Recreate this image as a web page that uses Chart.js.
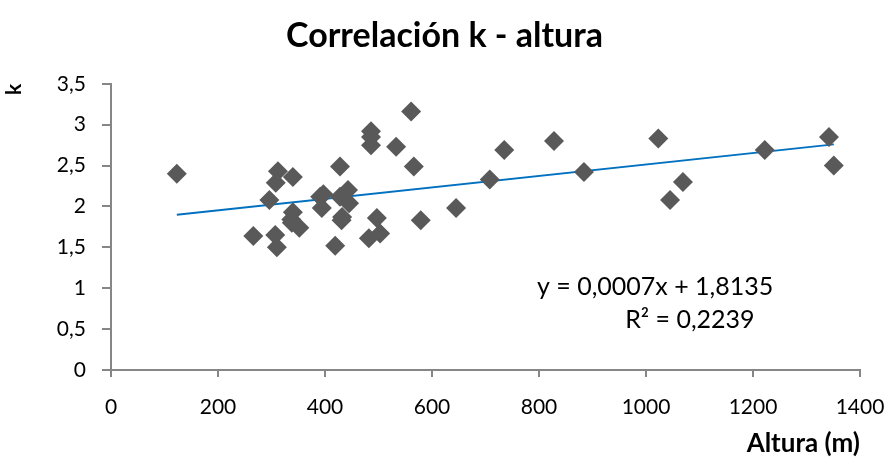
<!DOCTYPE html>
<html>
<head>
<meta charset="utf-8">
<script src="https://cdn.jsdelivr.net/npm/chart.js@4.4.1/dist/chart.umd.min.js"></script>
<style>
  html, body { margin: 0; padding: 0; background: #fff; }
  #wrap { width: 889px; height: 463px; }
</style>
</head>
<body>
<div id="wrap"><canvas id="chart1" width="889" height="463"></canvas></div>
<script>
// altura (m) y k
const altura = [123, 266, 296, 308, 312, 307, 310, 340, 340, 337, 338, 352,
  391, 397, 394, 419, 428, 428, 431, 432, 443, 445, 486, 486, 486, 533,
  561, 566, 497, 503, 482, 579, 645, 708, 735, 828, 884, 1023, 1045, 1069,
  1222, 1342, 1351];
const k = [2.40, 1.64, 2.08, 2.29, 2.43, 1.65, 1.50, 2.36, 1.93, 1.84, 1.80, 1.74,
  2.12, 2.15, 1.98, 1.52, 2.49, 2.12, 1.83, 1.87, 2.20, 2.04, 2.92, 2.85, 2.75, 2.73,
  3.16, 2.49, 1.86, 1.67, 1.61, 1.83, 1.98, 2.33, 2.69, 2.80, 2.42, 2.83, 2.08, 2.30,
  2.69, 2.85, 2.50];

// linea de tendencia (ajuste de Excel)
const pendiente = 0.0007;
const intercepto = 1.8135;
const r2 = '0,2239';
const ecuacion = 'y = 0,0007x + 1,8135';

const puntos = altura.map((x, i) => ({ x: x, y: k[i] }));
const xMin = Math.min(...altura);
const xMax = Math.max(...altura);
const tendencia = [
  { x: xMin, y: pendiente * xMin + intercepto },
  { x: xMax, y: pendiente * xMax + intercepto }
];

const fuente = 'Lato, "Open Sans", sans-serif';
const gris = '#868686';

const etiquetaEcuacion = {
  id: 'etiquetaEcuacion',
  afterDatasetsDraw(chart) {
    const c = chart.ctx;
    const sx = chart.scales.x, sy = chart.scales.y;
    c.save();
    c.fillStyle = '#000';
    c.font = '25px ' + fuente;
    c.textAlign = 'center';
    c.textBaseline = 'middle';
    c.fillText(ecuacion, sx.getPixelForValue(1017), sy.getPixelForValue(1.01));
    c.fillText('R\u00B2 = ' + r2, sx.getPixelForValue(1082), sy.getPixelForValue(0.61));
    c.restore();
  }
};

const ctx = document.getElementById('chart1');
new Chart(ctx, {
  type: 'scatter',
  data: {
    datasets: [{
      label: 'k',
      data: puntos,
      pointStyle: 'rectRot',
      pointRadius: 10,
      pointHoverRadius: 10,
      backgroundColor: '#595959',
      borderColor: '#595959',
      borderWidth: 0
    }, {
      type: 'line',
      label: 'Lineal',
      data: tendencia,
      borderColor: '#0070C0',
      borderWidth: 2,
      pointRadius: 0,
      fill: false
    }]
  },
  options: {
    responsive: false,
    animation: false,
    layout: { padding: 0 },
    plugins: {
      legend: { display: false },
      tooltip: { enabled: false },
      title: {
        display: true,
        text: 'Correlación k - altura',
        color: '#000',
        font: { family: fuente, size: 34, weight: 'bold' },
        padding: { top: 16, bottom: 27 }
      }
    },
    scales: {
      x: {
        type: 'linear',
        min: 0,
        max: 1400,
        border: { color: gris, width: 2 },
        grid: { drawOnChartArea: false, color: gris, tickLength: 7, lineWidth: 2 },
        ticks: {
          stepSize: 200,
          color: '#000',
          font: { family: fuente, size: 21 },
          padding: 18,
          callback: v => v.toString()
        },
        title: {
          display: true,
          text: 'Altura (m)',
          align: 'end',
          color: '#000',
          font: { family: fuente, size: 26, weight: 'bold' },
          padding: { top: 0, bottom: 4 }
        },
        afterFit(scale) {
          scale.height = 93;
          scale.paddingLeft = 0;
          scale.paddingRight = 29;
        }
      },
      y: {
        min: 0,
        max: 3.5,
        border: { color: gris, width: 2 },
        grid: { drawOnChartArea: false, color: gris, tickLength: 9, lineWidth: 2 },
        ticks: {
          stepSize: 0.5,
          color: '#000',
          font: { family: fuente, size: 21 },
          padding: 16,
          callback: v => v.toString().replace('.', ',')
        },
        title: {
          display: true,
          text: 'k',
          align: 'end',
          color: '#000',
          font: { family: fuente, size: 21, weight: 'bold' },
          padding: { top: 2, bottom: 0 }
        },
        afterFit(scale) { scale.width = 111; }
      }
    }
  },
  plugins: [etiquetaEcuacion]
});
</script>
</body>
</html>
